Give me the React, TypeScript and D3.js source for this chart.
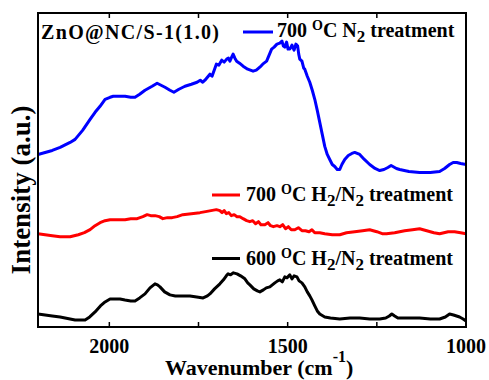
import React from 'react'
import * as d3 from 'd3'

// spectra: [wavenumber cm-1, intensity a.u.]
const blueN2: [number, number][] = [
  [2200, 172], [2160, 176], [2138, 179], [2110, 184], [2096, 187], [2075, 196], [2054, 207], [2040, 214],
  [2026, 220], [2012, 227], [1998, 229], [1989, 230], [1970, 230], [1956, 230], [1940, 229], [1928, 229],
  [1915, 232], [1900, 236], [1880, 240], [1866, 243], [1855, 241], [1844, 239], [1830, 236], [1819, 234],
  [1805, 237], [1788, 240], [1770, 242], [1754, 244], [1745, 246], [1738, 244], [1732, 246], [1725, 249],
  [1718, 252], [1712, 250], [1706, 256], [1700, 262], [1693, 261], [1685, 266], [1678, 264], [1671, 267],
  [1666, 268], [1662, 265], [1657, 269], [1653, 272], [1648, 268], [1643, 265], [1635, 263], [1625, 260],
  [1612, 257], [1597, 255], [1588, 256], [1578, 259], [1570, 262], [1559, 265], [1552, 271], [1545, 277],
  [1538, 279], [1530, 282], [1522, 283], [1516, 285], [1512, 280], [1508, 279], [1503, 284], [1499, 277],
  [1494, 277], [1488, 281], [1482, 276], [1477, 282], [1472, 280], [1469, 272], [1466, 267], [1460, 265],
  [1455, 258], [1452, 257], [1445, 250], [1438, 244], [1431, 236], [1424, 227], [1417, 216], [1410, 204],
  [1403, 192], [1396, 180], [1389, 172], [1382, 167], [1375, 162], [1368, 160], [1361, 157], [1354, 157],
  [1348, 162], [1340, 167], [1330, 171], [1320, 173], [1312, 174], [1305, 173], [1298, 172], [1285, 167],
  [1270, 162], [1255, 158], [1242, 156], [1230, 157], [1219, 159], [1210, 161], [1205, 160], [1195, 158],
  [1186, 157], [1160, 155], [1130, 154], [1100, 154], [1074, 155], [1060, 158], [1046, 162], [1036, 164],
  [1026, 164], [1015, 163], [1000, 162],
]

const redH2N2: [number, number][] = [
  [2200, 93], [2160, 91], [2138, 90], [2110, 90], [2087, 92], [2070, 94], [2054, 97], [2040, 101],
  [2026, 104], [2012, 106], [1998, 107], [1975, 107], [1956, 107], [1940, 108], [1922, 108], [1906, 110],
  [1894, 112], [1884, 111], [1872, 111], [1860, 110], [1850, 108], [1837, 109], [1824, 109], [1810, 110],
  [1794, 112], [1770, 113], [1746, 114], [1730, 115], [1715, 116], [1700, 117], [1690, 116], [1684, 114],
  [1678, 116], [1672, 113], [1665, 114], [1658, 111], [1650, 112], [1642, 110], [1634, 110], [1625, 108],
  [1615, 106], [1606, 105], [1598, 106], [1590, 103], [1582, 105], [1575, 102], [1564, 102], [1555, 104],
  [1548, 101], [1540, 100], [1530, 101], [1522, 100], [1514, 102], [1506, 98], [1498, 100], [1490, 97],
  [1480, 97], [1470, 99], [1460, 96], [1450, 96], [1440, 95], [1432, 97], [1424, 94], [1410, 94],
  [1396, 93], [1375, 92], [1354, 92], [1335, 94], [1312, 95], [1290, 96], [1270, 97], [1250, 95],
  [1235, 93], [1223, 93], [1200, 94], [1172, 96], [1150, 97], [1130, 98], [1110, 96], [1090, 94],
  [1074, 93], [1050, 95], [1032, 95], [1015, 94], [1000, 93],
]

const black600: [number, number][] = [
  [2200, 13], [2160, 11], [2138, 10], [2110, 8], [2096, 7], [2080, 7], [2068, 7], [2055, 10],
  [2040, 15], [2025, 21], [2012, 25], [1998, 28], [1984, 28], [1970, 28], [1956, 27], [1940, 26],
  [1928, 26], [1915, 29], [1900, 33], [1886, 39], [1872, 43], [1865, 42], [1858, 40], [1845, 35],
  [1830, 32], [1815, 31], [1802, 31], [1788, 31], [1774, 31], [1755, 30], [1737, 29], [1725, 31],
  [1718, 33], [1705, 38], [1690, 43], [1680, 47], [1672, 51], [1667, 53], [1660, 52], [1652, 54],
  [1642, 53], [1632, 51], [1620, 48], [1612, 44], [1606, 42], [1595, 38], [1585, 36], [1578, 35],
  [1568, 37], [1560, 39], [1550, 40], [1543, 42], [1536, 44], [1528, 46], [1522, 47], [1515, 45],
  [1508, 50], [1502, 49], [1494, 52], [1488, 48], [1482, 51], [1474, 50], [1468, 46], [1460, 44],
  [1452, 40], [1445, 35], [1438, 31], [1432, 27], [1424, 21], [1417, 16], [1410, 13], [1396, 10],
  [1380, 9], [1354, 8], [1325, 9], [1298, 9], [1270, 8], [1242, 8], [1225, 9], [1215, 11],
  [1208, 13], [1200, 11], [1191, 9], [1160, 9], [1130, 9], [1100, 8], [1074, 8], [1058, 10],
  [1046, 13], [1035, 12], [1018, 10], [1008, 8], [1000, 6],
]

const tickValues = [2000, 1750, 1500, 1250, 1000]
const tickLabels = ['2000', '', '1500', '', '1000']

const W = 489
const H = 380
const margin = { top: 13, right: 23, bottom: 53, left: 38 }
const font = '"Liberation Serif", "Times New Roman", serif'

export default function App() {
  const x = d3.scaleLinear().domain([2200, 1000]).range([margin.left, W - margin.right])
  const y = d3.scaleLinear().domain([0, 313]).range([H - margin.bottom, margin.top])
  const line = d3.line<[number, number]>()
    .x(d => x(d[0]))
    .y(d => y(d[1]))

  const bottom = H - margin.bottom
  const top = margin.top

  return (
    <svg width={W} height={H} style={{ position: 'absolute', left: 0, top: 0 }}
      fontFamily={font} fontWeight="bold">
      <rect width={W} height={H} fill="#fff" />

      <path d={line(blueN2) || ''} fill="none" stroke="#0000ff" strokeWidth={3} strokeLinejoin="round" />
      <path d={line(redH2N2) || ''} fill="none" stroke="#ff0000" strokeWidth={3} strokeLinejoin="round" />
      <path d={line(black600) || ''} fill="none" stroke="#000" strokeWidth={3} strokeLinejoin="round" />

      {/* frame */}
      <rect x={margin.left} y={top} width={W - margin.right - margin.left} height={bottom - top}
        fill="none" stroke="#000" strokeWidth={2} />

      {/* inward ticks, bottom and top */}
      {tickValues.map((t, i) => (
        <g key={t}>
          <line x1={x(t)} x2={x(t)} y1={bottom} y2={bottom - 5} stroke="#000" strokeWidth={1.5} />
          <line x1={x(t)} x2={x(t)} y1={top} y2={top + 5} stroke="#000" strokeWidth={1.5} />
          {tickLabels[i] && (
            <text x={x(t)} y={353} textAnchor="middle" fontSize={20}>{tickLabels[i]}</text>
          )}
        </g>
      ))}

      {/* axis titles */}
      <text x={165} y={375} fontSize={22}>
        Wavenumber (cm<tspan dy={-13} fontSize={16}>-1</tspan><tspan dy={13} fontSize={22}>)</tspan>
      </text>
      <text transform="translate(29.5,190) rotate(-90)" textAnchor="middle" fontSize={27}>Intensity (a.u.)</text>

      {/* legend */}
      <text x={41} y={39.3} fontSize={20} textLength={178} lengthAdjust="spacing">ZnO@NC/S-1(1.0)</text>

      <line x1={243} x2={273} y1={32} y2={32} stroke="#0000ff" strokeWidth={3} />
      <text x={277} y={37.3} fontSize={20}>
        700 <tspan dy={-7} fontSize={14}>O</tspan><tspan dy={7} fontSize={20}>C N</tspan>
        <tspan dy={5} fontSize={17}>2</tspan><tspan dy={-5} fontSize={20}> treatment</tspan>
      </text>

      <line x1={212} x2={240} y1={195} y2={195} stroke="#ff0000" strokeWidth={3} />
      <text x={246} y={200.5} fontSize={20}>
        700 <tspan dy={-7} fontSize={14}>O</tspan><tspan dy={7} fontSize={20}>C H</tspan>
        <tspan dy={5} fontSize={17}>2</tspan><tspan dy={-5} fontSize={20}>/N</tspan>
        <tspan dy={5} fontSize={17}>2</tspan><tspan dy={-5} fontSize={20}> treatment</tspan>
      </text>

      <line x1={212} x2={240} y1={258.5} y2={258.5} stroke="#000" strokeWidth={3} />
      <text x={246} y={265} fontSize={20}>
        600 <tspan dy={-7} fontSize={14}>O</tspan><tspan dy={7} fontSize={20}>C H</tspan>
        <tspan dy={5} fontSize={17}>2</tspan><tspan dy={-5} fontSize={20}>/N</tspan>
        <tspan dy={5} fontSize={17}>2</tspan><tspan dy={-5} fontSize={20}> treatment</tspan>
      </text>
    </svg>
  )
}
